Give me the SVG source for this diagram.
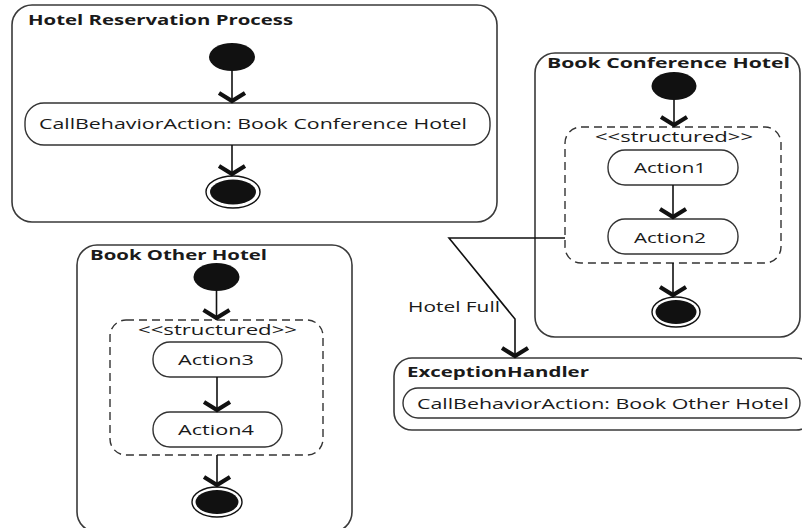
<svg xmlns="http://www.w3.org/2000/svg" width="802" height="528" viewBox="0 0 802 528">
  <defs>
    <style>
      .frame { fill: #fff; stroke: #3a3a3a; stroke-width: 1.6; }
      .act { fill: #fff; stroke: #333; stroke-width: 1.4; }
      .dash { fill: none; stroke: #333; stroke-width: 1.4; stroke-dasharray: 8 5; }
      .flow { fill: none; stroke: #111; stroke-width: 1.6; marker-end: url(#chev); }
      .dot { fill: #111; }
      .ring { fill: #fff; stroke: #111; stroke-width: 1.4; }
      .title { font-family: "Open Sans", "Liberation Sans", sans-serif; font-weight: bold; font-size: 14px; fill: #1a1a1a; }
      .lbl { font-family: "Open Sans", "Liberation Sans", sans-serif; font-size: 15px; fill: #1a1a1a; }
    </style>
    <!-- open chevron arrowhead, tip at the end of the line -->
    <marker id="chev" markerUnits="userSpaceOnUse" markerWidth="32" markerHeight="32" viewBox="-16 -16 32 32" refX="0" refY="0" orient="auto" overflow="visible">
      <path d="M-10,-13 L-2,0 L-10,13" fill="none" stroke="#111" stroke-width="4.2" stroke-linejoin="miter"/>
    </marker>
  </defs>

  <!-- Hotel Reservation Process -->
  <g id="hotel-reservation-process">
    <rect class="frame" x="12" y="5" width="485" height="217" rx="20"/>
    <text class="title" x="28" y="25" textLength="265" lengthAdjust="spacingAndGlyphs">Hotel Reservation Process</text>
    <ellipse class="dot" cx="232" cy="57" rx="23" ry="14"/>
    <rect class="act" x="25" y="103" width="465" height="42" rx="19"/>
    <text class="lbl" x="39" y="129" font-size="16" textLength="428" lengthAdjust="spacingAndGlyphs">CallBehaviorAction: Book Conference Hotel</text>
    <ellipse class="ring" cx="233" cy="192" rx="27" ry="16"/>
    <ellipse class="dot" cx="233" cy="192" rx="23" ry="12.5"/>
  </g>

  <!-- Book Conference Hotel -->
  <g id="book-conference-hotel">
    <rect class="frame" x="535" y="53" width="265" height="284" rx="20"/>
    <text class="title" x="547" y="68" textLength="243" lengthAdjust="spacingAndGlyphs">Book Conference Hotel</text>
    <ellipse class="dot" cx="674" cy="86" rx="22.5" ry="14"/>
    <rect class="dash" x="565" y="127" width="216" height="136" rx="16"/>
    <text class="lbl" x="595" y="142" textLength="158" lengthAdjust="spacingAndGlyphs">&lt;&lt;structured&gt;&gt;</text>
    <g id="action1">
      <rect class="act" x="608" y="150" width="130" height="35" rx="17"/>
      <text class="lbl" x="634" y="173" textLength="72" lengthAdjust="spacingAndGlyphs">Action1</text>
    </g>
    <g id="action2">
      <rect class="act" x="608" y="219" width="130" height="35" rx="17"/>
      <text class="lbl" x="634" y="243" textLength="72" lengthAdjust="spacingAndGlyphs">Action2</text>
    </g>
    <ellipse class="ring" cx="676" cy="312" rx="24" ry="15"/>
    <ellipse class="dot" cx="676" cy="312" rx="20.5" ry="12"/>
  </g>

  <!-- Book Other Hotel -->
  <g id="book-other-hotel">
    <rect class="frame" x="77" y="245" width="275" height="287" rx="20"/>
    <text class="title" x="90" y="260" textLength="177" lengthAdjust="spacingAndGlyphs">Book Other Hotel</text>
    <ellipse class="dot" cx="216.5" cy="277" rx="23" ry="14"/>
    <rect class="dash" x="110" y="320" width="213" height="135" rx="16"/>
    <text class="lbl" x="138" y="335" textLength="159" lengthAdjust="spacingAndGlyphs">&lt;&lt;structured&gt;&gt;</text>
    <g id="action3">
      <rect class="act" x="153" y="342" width="129" height="35" rx="17"/>
      <text class="lbl" x="178" y="365" textLength="76" lengthAdjust="spacingAndGlyphs">Action3</text>
    </g>
    <g id="action4">
      <rect class="act" x="153" y="412" width="129" height="35" rx="17"/>
      <text class="lbl" x="178" y="435" textLength="76" lengthAdjust="spacingAndGlyphs">Action4</text>
    </g>
    <ellipse class="ring" cx="217" cy="502" rx="25" ry="15"/>
    <ellipse class="dot" cx="217" cy="502" rx="21.5" ry="12"/>
  </g>

  <!-- Exception handler -->
  <g id="exception-handler">
    <rect class="frame" x="394" y="358" width="420" height="72" rx="18"/>
    <text class="title" x="407" y="377" textLength="182" lengthAdjust="spacingAndGlyphs">ExceptionHandler</text>
    <rect class="act" x="403" y="388" width="397" height="30" rx="15"/>
    <text class="lbl" x="417" y="409" textLength="372" lengthAdjust="spacingAndGlyphs">CallBehaviorAction: Book Other Hotel</text>
  </g>

  <!-- control flows -->
  <g id="connectors">
    <line class="flow" x1="232" y1="71" x2="232" y2="103"/>
    <line class="flow" x1="232" y1="145" x2="232" y2="176"/>
    <line class="flow" x1="674" y1="100" x2="674" y2="127"/>
    <line class="flow" x1="673" y1="185" x2="673" y2="219"/>
    <line class="flow" x1="673" y1="263" x2="673" y2="297"/>
    <line class="flow" x1="216.5" y1="291" x2="216.5" y2="320"/>
    <line class="flow" x1="217" y1="377" x2="217" y2="412"/>
    <line class="flow" x1="217" y1="455" x2="217" y2="487"/>
    <polyline class="flow" points="565,238 449,238 515,319 515,358"/>
    <text class="lbl" x="408" y="312" textLength="92" lengthAdjust="spacingAndGlyphs">Hotel Full</text>
  </g>
</svg>
